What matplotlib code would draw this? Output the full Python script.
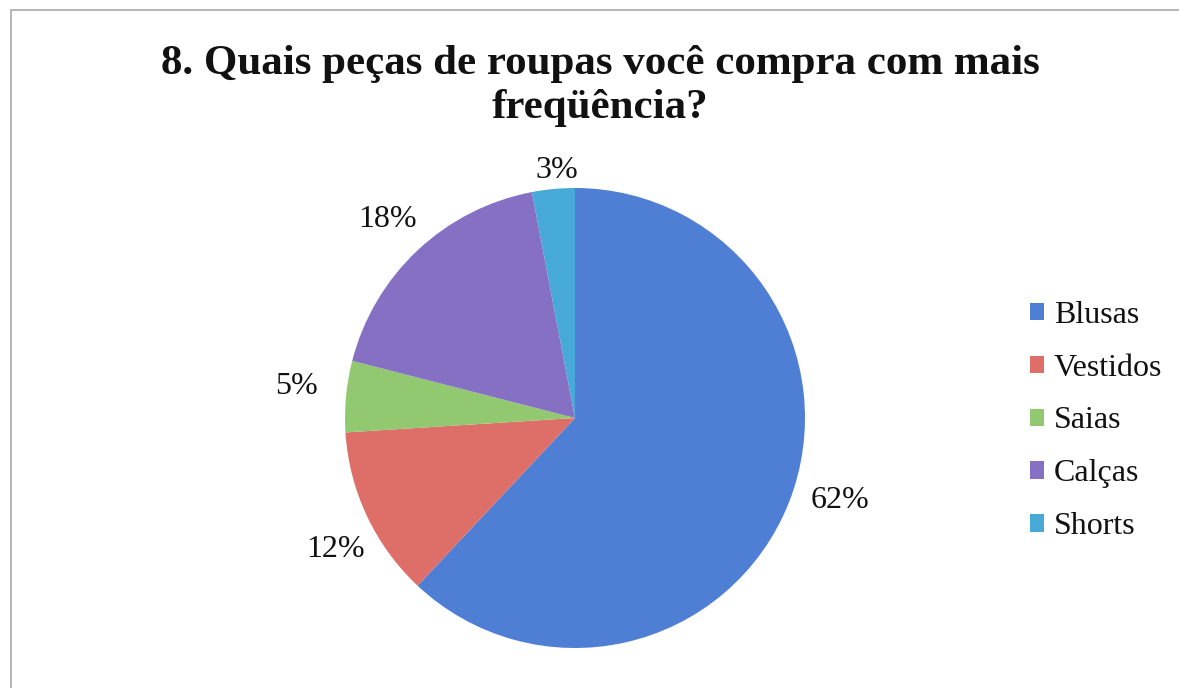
import matplotlib
matplotlib.use("Agg")
import matplotlib.pyplot as plt
from matplotlib.patches import Rectangle

categories = ["Blusas", "Vestidos", "Saias", "Calças", "Shorts"]
values = [62, 12, 5, 18, 3]
colors = ["#4F7FD4", "#DE6E68", "#92C870", "#8570C4", "#47A9D8"]
title = "8. Quais peças de roupas você compra com mais\nfreqüência?"

# label positions (layout, in pie-radius units)
label_pos = [(1.152, -0.36), (-1.043, -0.57), (-1.209, 0.135), (-0.813, 0.865), (-0.078, 1.075)]

plt.rcParams['font.family'] = ['Liberation Serif', 'DejaVu Serif']

W, H = 1179, 688
fig = plt.figure(figsize=(W / 100, H / 100), dpi=100)

# border
fig.patches.append(Rectangle((11 / W, -0.1), 1.2, (1 - 10 / H) + 0.1, transform=fig.transFigure,
                             fill=False, edgecolor="#A8A8B0", linewidth=1.2))

cx, cy, r = 575, 418, 230
ax = fig.add_axes([(cx - r) / W, (H - cy - r) / H, 2 * r / W, 2 * r / H])
wedges, texts, autotexts = ax.pie(values, colors=colors, startangle=90, counterclock=False,
                                  autopct=lambda p: f"{p:.0f}%", pctdistance=1.15,
                                  textprops=dict(fontsize=23, color="#111111"),
                                  wedgeprops=dict(linewidth=0))
for t, pos in zip(autotexts, label_pos):
    t.set_position(pos)
    t.set_ha("center")
    t.set_va("center")
ax.set_xlim(-1, 1)
ax.set_ylim(-1, 1)
ax.set_aspect("equal")

fig.text(600 / W, 1 - 86 / H, title, ha="center", va="center", fontsize=31, fontweight="bold",
         linespacing=1.22, color="#111111")

leg = fig.legend(wedges, categories, loc="center left", bbox_to_anchor=(1014 / W, 1 - 421 / H),
                 frameon=False, fontsize=23, handlelength=0.45, handleheight=0.45,
                 handletextpad=0.3, labelspacing=0.75, borderpad=0)
for t in leg.get_texts():
    t.set_color("#111111")

fig.savefig("out.png", dpi=100, facecolor="white")
